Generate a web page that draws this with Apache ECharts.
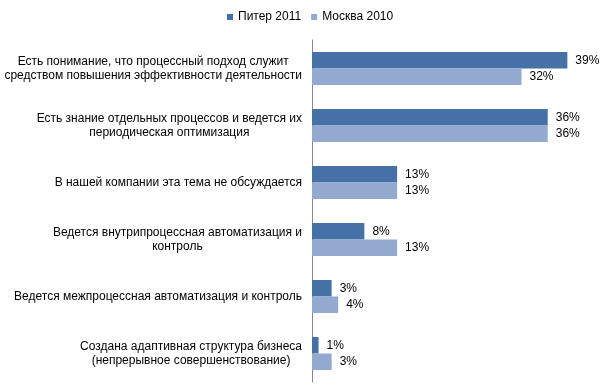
<!DOCTYPE html>
<html><head><meta charset="utf-8">
<script src="https://cdn.jsdelivr.net/npm/echarts@6/dist/echarts.min.js"></script>
<style>html,body{margin:0;padding:0;background:#fff}#c{width:601px;height:386px}</style>
</head><body><div id="c"></div>
<script>
const categories = [
  "Есть понимание, что процессный подход служит\nсредством повышения эффективности деятельности",
  "Есть знание отдельных процессов и ведется их\nпериодическая оптимизация",
  "В нашей компании эта тема не обсуждается",
  "Ведется внутрипроцессная автоматизация и\nконтроль",
  "Ведется межпроцессная автоматизация и контроль",
  "Создана адаптивная структура бизнеса\n(непрерывное совершенствование)"
];
const seriesNames = ["Питер 2011", "Москва 2010"];
const piter2011 = [39, 36, 13, 8, 3, 1];
const moskva2010 = [32, 36, 13, 13, 4, 3];

const chart = echarts.init(document.getElementById('c'), null, {renderer: 'canvas'});
const font = '"Liberation Sans", Arial, sans-serif';
const labelCfg = {show: true, position: 'right', distance: 8, formatter: '{c}%', color: '#000', fontSize: 12, fontFamily: font};
chart.setOption({
  animation: false,
  legend: {
    top: 6, left: 222, icon: 'rect', itemWidth: 6, itemHeight: 6, itemGap: 10,
    textStyle: {fontSize: 12, fontFamily: font, color: '#000'},
    data: seriesNames
  },
  grid: {left: 312, top: 40, width: 275, height: 342, containLabel: false},
  xAxis: {type: 'value', min: 0, max: 42, show: false, splitLine: {show: false}},
  yAxis: {
    type: 'category', inverse: true, data: categories,
    axisLine: {show: true, lineStyle: {color: '#868686', width: 1}},
    axisTick: {show: false},
    axisLabel: {
      margin: 10, fontSize: 12, fontFamily: font, color: '#000',
      formatter: v => v.split('\n').map(s => '{c|' + s + '}').join('\n'),
      rich: {c: {align: 'center', fontSize: 12, fontFamily: font, color: '#000', lineHeight: 14}}
    }
  },
  series: [
    {name: seriesNames[0], type: 'bar', data: piter2011, barGap: '0%', barCategoryGap: '42%',
     itemStyle: {color: '#4571A7'}, label: labelCfg},
    {name: seriesNames[1], type: 'bar', data: moskva2010, barGap: '0%', barCategoryGap: '42%',
     itemStyle: {color: '#93A9CF'}, label: labelCfg}
  ]
});
</script></body></html>
